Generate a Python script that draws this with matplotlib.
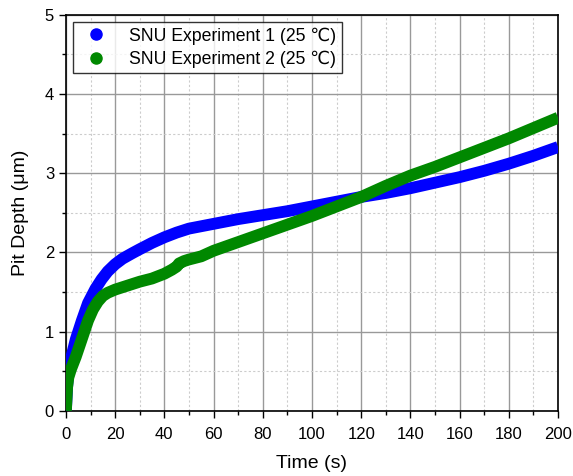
import matplotlib
matplotlib.use("Agg")
import matplotlib.pyplot as plt
from matplotlib.lines import Line2D

plt.rcParams['font.family'] = ['Liberation Sans', 'DejaVu Sans']

# SNU experiment 1 (blue)
t1 = [0, 0.5, 1, 2, 4, 6.5, 9, 12, 14.5, 17, 20, 23, 27, 30, 35, 40, 45, 50, 60, 70,
      80, 90, 100, 110, 120, 130, 140, 150, 160, 170, 180, 190, 200]
d1 = [0, 0.3, 0.48, 0.65, 0.9, 1.14, 1.36, 1.54, 1.66, 1.76, 1.85, 1.92, 1.99, 2.04,
      2.12, 2.19, 2.25, 2.3, 2.36, 2.42, 2.47, 2.52, 2.58, 2.64, 2.7, 2.75, 2.81,
      2.88, 2.95, 3.03, 3.12, 3.22, 3.33]

# SNU experiment 2 (green)
t2 = [0, 0.5, 1, 2, 4, 6.4, 9, 11, 13, 15, 17, 20, 25, 30, 35, 40, 43, 45, 46, 48,
      50, 55, 60, 70, 80, 90, 100, 110, 120, 130, 140, 150, 160, 170, 180, 190, 200]
d2 = [0, 0.3, 0.42, 0.52, 0.68, 0.9, 1.14, 1.28, 1.38, 1.45, 1.49, 1.53, 1.58,
      1.63, 1.67, 1.73, 1.78, 1.82, 1.86, 1.89, 1.91, 1.95, 2.02, 2.13, 2.24,
      2.35, 2.46, 2.58, 2.7, 2.84, 2.97, 3.08, 3.2, 3.32, 3.44, 3.57, 3.7]

labels = ['SNU Experiment 1 (25 \u2103)', 'SNU Experiment 2 (25 \u2103)']
colors = ['#0000ff', '#008800']

fig = plt.figure(figsize=(5.73, 4.76), dpi=100)
ax = fig.add_axes([0.115, 0.137, 0.859, 0.832])

ax.plot(t1, d1, color=colors[0], lw=8.5, solid_capstyle='butt', solid_joinstyle='round', zorder=3)
ax.plot(t2, d2, color=colors[1], lw=8.5, solid_capstyle='butt', solid_joinstyle='round', zorder=4)

ax.set_xlim(0, 200)
ax.set_ylim(0, 5)
ax.set_xticks(range(0, 201, 20))
ax.set_xticks(range(0, 201, 10), minor=True)
ax.set_yticks(range(0, 6))
ax.set_yticks([0.5 + i for i in range(5)], minor=True)
ax.grid(which='major', color='#999999', lw=1.0)
ax.grid(which='minor', color='#cccccc', lw=0.8, ls=(0, (2, 2)))
ax.set_axisbelow(True)
ax.tick_params(which='both', direction='out', labelsize=12, width=1, color='black')
ax.tick_params(which='major', length=5)
ax.tick_params(which='minor', length=3)
ax.tick_params(axis='x', which='major', pad=7)
for s in ax.spines.values():
    s.set_linewidth(1.2)
    s.set_color('black')

ax.set_xlabel('Time (s)', fontsize=14, labelpad=9)
ax.set_ylabel('Pit Depth (\u03bcm)', fontsize=14, labelpad=11)

handles = [Line2D([], [], ls='none', marker='o', ms=8, color=c) for c in colors]
leg = ax.legend(handles, labels, loc='upper left', fontsize=12.7, frameon=True,
                fancybox=False, edgecolor='black', borderpad=0.3, borderaxespad=0,
                handletextpad=0.9, labelspacing=0.35, bbox_to_anchor=(0.014, 0.982))
leg.get_frame().set_linewidth(1.0)

fig.savefig('out.png', dpi=100)
